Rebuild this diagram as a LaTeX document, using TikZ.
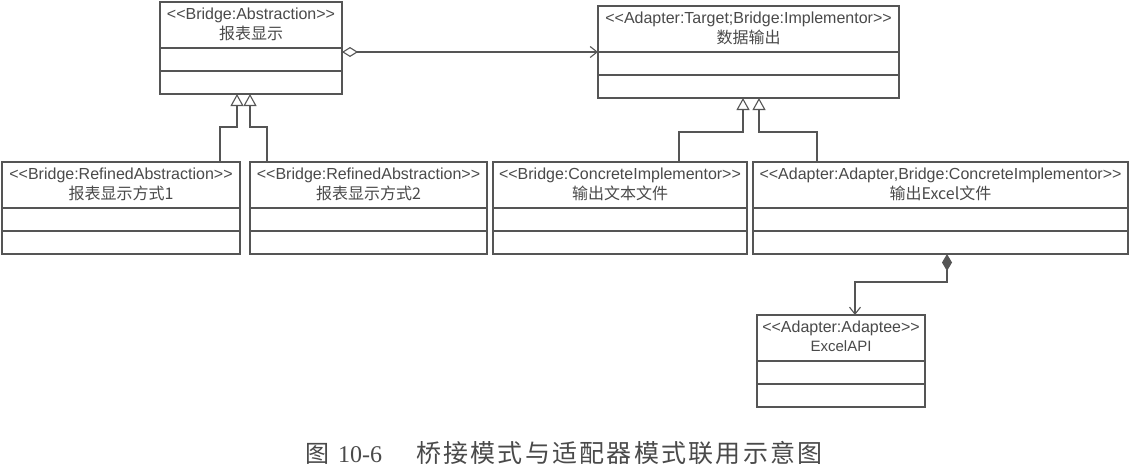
\documentclass[tikz,border=0pt]{standalone}
\usepackage{fontspec}
\setmainfont{Liberation Sans}
\newfontfamily\cjk{Noto Sans CJK SC}
\newfontfamily\cjkcap[LetterSpace=9]{Noto Sans CJK SC}
\newfontfamily\capserif{Liberation Serif}
\usetikzlibrary{arrows.meta,calc}
\definecolor{lc}{HTML}{555555}
\definecolor{tc}{HTML}{4A4A4A}
\tikzset{
  cls/.style={draw=lc, line width=1.1pt, rectangle, inner sep=0pt, outer sep=0pt, minimum height=92pt, fill=white},
  sline/.style={draw=lc, line width=1.1pt},
  st/.style={font=\fontsize{16}{18}\selectfont, text=tc, inner sep=0pt},
  nm/.style={font=\cjk\fontsize{16}{18}\selectfont, text=tc, inner sep=0pt},
  conn/.style={draw=lc, line width=1.1pt},
  gen/.style={conn, -{Triangle[open, length=12pt, width=13pt, line width=1.1pt]}},
  agg/.style={conn, {Diamond[open, length=16pt, width=10pt, line width=1.1pt]}-{Straight Barb[length=7pt, width=11pt, line width=1.1pt]}},
  comp/.style={conn, {Diamond[length=17pt, width=10pt]}-{Straight Barb[length=7pt, width=11pt, line width=1.1pt]}},
}
\newcommand\umlclass[6]{%
  \node[cls, minimum width=#4pt, anchor=north west] (#1) at (#2,#3) {};
  \draw[sline] ([yshift=-46pt]#1.north west) -- ([yshift=-46pt]#1.north east);
  \draw[sline] ([yshift=-69pt]#1.north west) -- ([yshift=-69pt]#1.north east);
  \node[st] at ([yshift=-13pt]#1.north) {#5};
  \node[nm] at ([yshift=-31pt]#1.north) {#6};
}
\begin{document}
\begin{tikzpicture}[x=1pt, y=-1pt]
\useasboundingbox[fill=white] (0,0) rectangle (1132,469);

\umlclass{abs}{160}{2}{182}{<{}<Bridge:Abstraction>{}>}{报表显示}
\umlclass{tgt}{598}{6}{301}{<{}<Adapter:Target;Bridge:Implementor>{}>}{数据输出}
\umlclass{ra}{2}{162}{238}{<{}<Bridge:RefinedAbstraction>{}>}{报表显示方式1}
\umlclass{rb}{250}{162}{237}{<{}<Bridge:RefinedAbstraction>{}>}{报表显示方式2}
\umlclass{ca}{493}{162}{254}{<{}<Bridge:ConcreteImplementor>{}>}{输出文本文件}
\umlclass{cb}{753}{162}{375}{<{}<Adapter:Adapter,Bridge:ConcreteImplementor>{}>}{输出Excel文件}
\umlclass{api}{757}{315}{168}{<{}<Adapter:Adaptee>{}>}{\fontspec{Liberation Sans}\fontsize{15}{17}\selectfont ExcelAPI}

% aggregation
\draw[agg] (abs.east |- tgt.west) -- (tgt.west);

% generalizations to Abstraction
\coordinate (ga1) at (220,127);
\coordinate (ga2) at (237,127);
\coordinate (gb1) at (267,127);
\coordinate (gb2) at (250,127);
\draw[gen] (ra.north -| ga1) -- (ga1) -- (ga2) -- (abs.south -| ga2);
\draw[gen] (rb.north -| gb1) -- (gb1) -- (gb2) -- (abs.south -| gb2);

% generalizations to Implementor
\coordinate (gc1) at (679,132);
\coordinate (gc2) at (743,132);
\coordinate (gd1) at (817,132);
\coordinate (gd2) at (759,132);
\draw[gen] (ca.north -| gc1) -- (gc1) -- (gc2) -- (tgt.south -| gc2);
\draw[gen] (cb.north -| gd1) -- (gd1) -- (gd2) -- (tgt.south -| gd2);

% composition
\coordinate (k1) at (947,282);
\coordinate (k2) at (855,282);
\draw[comp] (cb.south -| k1) -- (k1) -- (k2) -- (api.north -| k2);

% caption
\node[anchor=base west, inner sep=0pt, text=tc] (cap) at (305,462)
  {{\cjk\fontsize{24}{26}\selectfont 图}\hspace{9pt}{\capserif\fontsize{24}{26}\selectfont 10-6}\hspace{34pt}{\cjkcap\fontsize{25}{27}\selectfont 桥接模式与适配器模式联用示意图}};
\end{tikzpicture}
\end{document}
